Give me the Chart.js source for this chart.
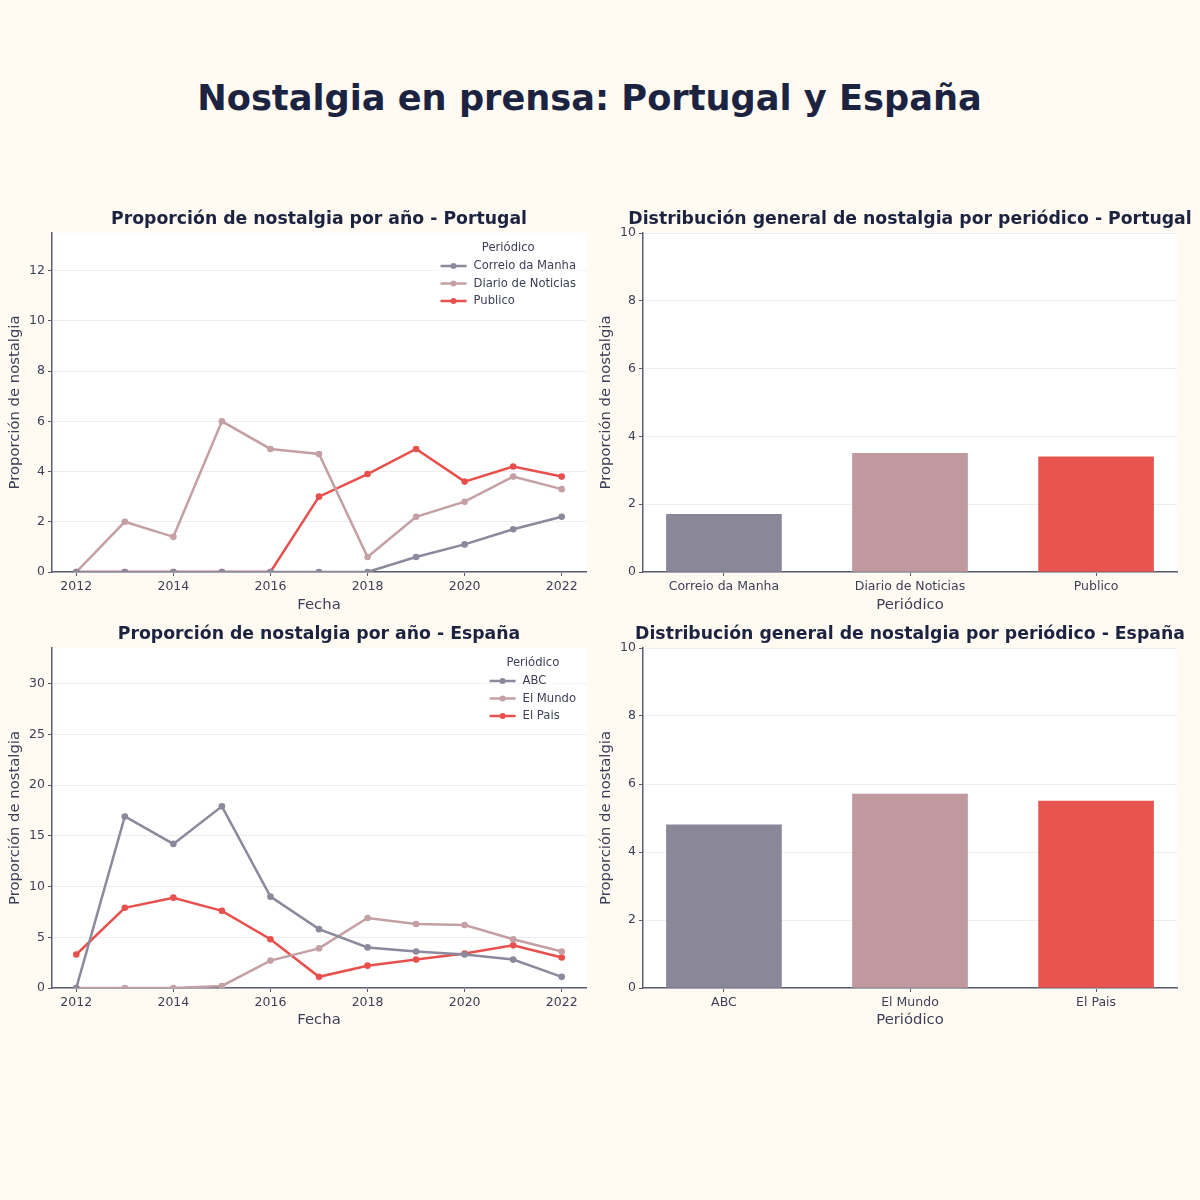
<!DOCTYPE html>
<html>
<head>
<meta charset="utf-8">
<title>Nostalgia en prensa</title>
<script src="https://cdn.jsdelivr.net/npm/chart.js@4.4.1/dist/chart.umd.min.js"></script>
<style>
  html, body { margin: 0; padding: 0; width: 1200px; height: 1200px; overflow: hidden; background: #fffbf3; }
  h1 {
    position: absolute; left: 0; top: 77px; width: 1179px; margin: 0;
    text-align: center; line-height: 40px;
    font: bold 35.2px 'DejaVu Sans', sans-serif; color: #1c2340;
  }
  canvas { position: absolute; }
</style>
</head>
<body>
<h1>Nostalgia en prensa: Portugal y España</h1>
<canvas id="ptLine" width="638" height="420" style="left:0;top:200px"></canvas>
<canvas id="ptBar" width="640" height="420" style="left:590px;top:200px"></canvas>
<canvas id="esLine" width="638" height="420" style="left:0;top:620px"></canvas>
<canvas id="esBar" width="640" height="420" style="left:590px;top:620px"></canvas>
<script>
'use strict';

//===== DATA ======

const YEARS = [2012, 2013, 2014, 2015, 2016, 2017, 2018, 2019, 2020, 2021, 2022];

const PT_PAPERS = ['Correio da Manha', 'Diario de Noticias', 'Publico'];
const PT_CORREIO = [0, 0, 0, 0, 0, 0, 0, 0.6, 1.1, 1.7, 2.2];
const PT_DIARIO = [0, 2.0, 1.4, 6.0, 4.9, 4.7, 0.6, 2.2, 2.8, 3.8, 3.3];
const PT_PUBLICO = [0, 0, 0, 0, 0, 3.0, 3.9, 4.9, 3.6, 4.2, 3.8];
const PT_TOTALS = [1.7, 3.5, 3.4];

const ES_PAPERS = ['ABC', 'El Mundo', 'El Pais'];
const ES_ABC = [0, 16.9, 14.2, 17.9, 9.0, 5.8, 4.0, 3.6, 3.3, 2.8, 1.1];
const ES_MUNDO = [0, 0, 0, 0.2, 2.7, 3.9, 6.9, 6.3, 6.2, 4.8, 3.6];
const ES_PAIS = [3.3, 7.9, 8.9, 7.6, 4.8, 1.1, 2.2, 2.8, 3.4, 4.2, 3.0];
const ES_TOTALS = [4.8, 5.7, 5.5];

//===== STYLE ======

const LINE_COLORS = ['#8b899b', '#c4a0a5', '#e8504d'];
const BAR_COLORS = ['#8a8799', '#bf999e', '#e85450'];
const TEXT = '#3c3f55';
const AXIS = '#5c5c70';
const GRID = '#eeeef2';
const TITLE = '#1c2340';

Chart.defaults.font.family = "'DejaVu Sans', sans-serif";
Chart.defaults.color = TEXT;
Chart.defaults.animation = false;

// white plotting area on the cream page
const plotBackground = {
    id: 'plotBackground',
    beforeDraw(chart) {
        const a = chart.chartArea;
        chart.ctx.save();
        chart.ctx.fillStyle = '#ffffff';
        chart.ctx.fillRect(a.left, a.top, a.right - a.left, a.bottom - a.top);
        chart.ctx.restore();
    }
};

// legend drawn inside the plot, top right, matplotlib style
const insideLegend = {
    id: 'insideLegend',
    afterDraw(chart, args, opts) {
        if (!opts.title) return;
        const ctx = chart.ctx;
        const a = chart.chartArea;
        const sets = chart.data.datasets;
        ctx.save();
        ctx.font = "11.6px 'DejaVu Sans', sans-serif";
        let textW = 0;
        sets.forEach(ds => { textW = Math.max(textW, ctx.measureText(ds.label).width); });
        const boxW = 26 + 7 + textW;
        const right = a.right - 10;
        const left = right - boxW;
        const top = a.top;

        ctx.fillStyle = 'rgba(255,255,255,0.5)';
        ctx.fillRect(left - 8, top + 5, boxW + 14, 73);

        ctx.fillStyle = TEXT;
        ctx.textBaseline = 'middle';
        ctx.textAlign = 'center';
        ctx.fillText(opts.title, (left + right) / 2, top + 15);
        ctx.textAlign = 'left';
        sets.forEach((ds, i) => {
            const y = top + 33 + i * 17.5;
            ctx.strokeStyle = ds.borderColor;
            ctx.lineWidth = 2.5;
            ctx.beginPath();
            ctx.moveTo(left, y);
            ctx.lineTo(left + 26, y);
            ctx.stroke();
            ctx.fillStyle = ds.borderColor;
            ctx.beginPath();
            ctx.arc(left + 13, y, 3, 0, Math.PI * 2);
            ctx.fill();
            ctx.fillStyle = TEXT;
            ctx.fillText(ds.label, left + 33, y);
        });
        ctx.restore();
    }
};

function yScale(max, step, width, titlePad) {
    return {
        min: 0,
        max: max,
        afterFit: s => { s.width = width; },
        border: { color: AXIS, width: 1.5 },
        grid: { color: GRID, lineWidth: 1, tickLength: 4, tickColor: AXIS },
        ticks: { stepSize: step, includeBounds: false, padding: 3, font: { size: 12.5 }, color: TEXT },
        title: { display: true, text: 'Proporción de nostalgia', font: { size: 14.8 }, color: TEXT,
                 padding: { top: titlePad, bottom: 0 } }
    };
}

// empty axis on the right so the panel title stays centred over the plot
function spacerScale(width) {
    return {
        type: 'linear',
        position: 'right',
        afterFit: s => { s.width = width; },
        border: { display: false },
        grid: { display: false },
        ticks: { display: false }
    };
}

function commonOptions(geo, title) {
    return {
        responsive: false,
        layout: { padding: 0 },
        plugins: {
            legend: { display: false },
            tooltip: { enabled: false },
            title: {
                display: true, text: title, color: TITLE,
                font: { size: 17.3, weight: 'bold' },
                padding: { top: geo.titleTop, bottom: geo.titleBottom }
            }
        }
    };
}

function xTitle(text, geo) {
    return { display: true, text: text, font: { size: 14.8 }, color: TEXT,
             padding: { top: 0, bottom: geo.xTitlePad } };
}

function makeLineChart(id, names, series, yMax, yStep, title, geo) {
    const options = commonOptions(geo, title);
    options.plugins.insideLegend = { title: 'Periódico' };
    options.scales = {
        x: {
            type: 'category',
            offset: true,
            afterFit: s => { s.height = geo.xHeight; },
            border: { color: AXIS, width: 1.5 },
            grid: { drawOnChartArea: false, offset: false, tickLength: 4, tickColor: AXIS },
            ticks: {
                autoSkip: false, maxRotation: 0, padding: 3.5, font: { size: 12.5 }, color: TEXT,
                callback: (v, i) => (YEARS[i] % 2 === 0 ? String(YEARS[i]) : null)
            },
            title: xTitle('Fecha', geo)
        },
        y: yScale(yMax, yStep, geo.yWidth, geo.yTitlePad),
        pad: spacerScale(geo.padRight)
    };
    return new Chart(document.getElementById(id), {
        type: 'line',
        data: {
            labels: YEARS.map(String),
            datasets: series.map((vals, i) => ({
                label: names[i],
                data: vals,
                borderColor: LINE_COLORS[i],
                backgroundColor: LINE_COLORS[i],
                pointBackgroundColor: LINE_COLORS[i],
                pointBorderWidth: 0,
                pointRadius: 3.3,
                borderWidth: 2.5,
                tension: 0
            }))
        },
        options: options,
        plugins: [plotBackground, insideLegend]
    });
}

function makeBarChart(id, names, totals, title, geo) {
    const options = commonOptions(geo, title);
    options.scales = {
        x: {
            type: 'linear',
            min: -0.435,
            max: 2.435,
            offset: false,
            afterFit: s => { s.height = geo.xHeight; },
            border: { color: AXIS, width: 1.5 },
            grid: { drawOnChartArea: false, offset: false, tickLength: 4, tickColor: AXIS },
            ticks: {
                stepSize: 1, includeBounds: false, maxRotation: 0, padding: 3.5,
                font: { size: 12.5 }, color: TEXT,
                callback: v => (names[v] !== undefined ? names[v] : '')
            },
            title: xTitle('Periódico', geo)
        },
        y: yScale(10, 2, geo.yWidth, geo.yTitlePad),
        pad: spacerScale(geo.padRight)
    };
    return new Chart(document.getElementById(id), {
        type: 'bar',
        data: {
            datasets: [{
                label: 'Proporción de nostalgia',
                data: totals.map((v, i) => ({ x: i, y: v })),
                backgroundColor: BAR_COLORS,
                borderWidth: 0,
                barThickness: 115
            }]
        },
        options: options,
        plugins: [plotBackground]
    });
}

const TOP_LEFT = { padRight: 52, yWidth: 52, titleTop: 9.4, titleBottom: 2.84, xHeight: 48, xTitlePad: 6.1, yTitlePad: 6.1 };
const TOP_RIGHT = { padRight: 53, yWidth: 53, titleTop: 9.4, titleBottom: 2.84, xHeight: 48, xTitlePad: 6.1, yTitlePad: 7.1 };
const BOTTOM_LEFT = { padRight: 52, yWidth: 52, titleTop: 4.2, titleBottom: 3.04, xHeight: 52, xTitlePad: 11.1, yTitlePad: 6.1 };
const BOTTOM_RIGHT = { padRight: 53, yWidth: 53, titleTop: 4.2, titleBottom: 3.04, xHeight: 52, xTitlePad: 11.1, yTitlePad: 7.1 };

makeLineChart('ptLine', PT_PAPERS, [PT_CORREIO, PT_DIARIO, PT_PUBLICO], 13.5, 2,
    'Proporción de nostalgia por año - Portugal', TOP_LEFT);
makeBarChart('ptBar', PT_PAPERS, PT_TOTALS,
    'Distribución general de nostalgia por periódico - Portugal', TOP_RIGHT);
makeLineChart('esLine', ES_PAPERS, [ES_ABC, ES_MUNDO, ES_PAIS], 33.5, 5,
    'Proporción de nostalgia por año - España', BOTTOM_LEFT);
makeBarChart('esBar', ES_PAPERS, ES_TOTALS,
    'Distribución general de nostalgia por periódico - España', BOTTOM_RIGHT);
</script>
</body>
</html>
